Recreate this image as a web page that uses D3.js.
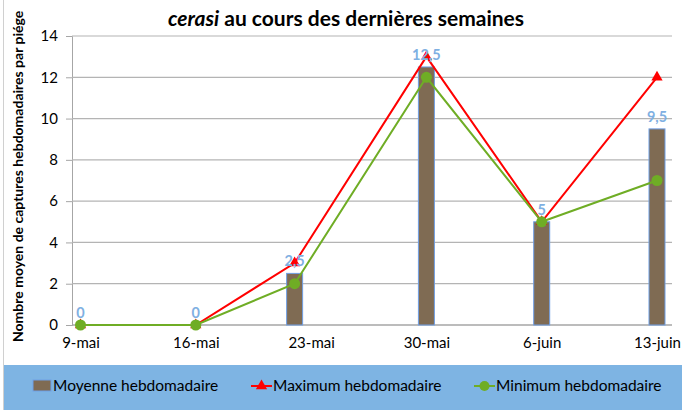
<!DOCTYPE html>
<html>
<head>
<meta charset="utf-8">
<script src="https://cdn.jsdelivr.net/npm/d3@7"></script>
<style>
body { margin: 0; background: #fff; }
svg { font-family: Lato, "Open Sans", sans-serif; }
</style>
</head>
<body>
<script>
const w = 682;
const h = 410;

// data (dates of the weekly trap readings)
const dates = ["2014-05-09", "2014-05-16", "2014-05-22", "2014-05-30", "2014-06-06", "2014-06-13"];
const moyenne = [0, 0, 2.5, 12.5, 5, 9.5];
const maximum = [0, 0, 3, 13, 5, 12];
const minimum = [0, 0, 2, 12, 5, 7];
const tickDates = ["2014-05-09", "2014-05-16", "2014-05-23", "2014-05-30", "2014-06-06", "2014-06-13"];
const tickLabels = ["9-mai", "16-mai", "23-mai", "30-mai", "6-juin", "13-juin"];
const yTicks = [0, 2, 4, 6, 8, 10, 12, 14];
const seriesNames = ["Moyenne hebdomadaire", "Maximum hebdomadaire", "Minimum hebdomadaire"];

const parse = d3.timeParse("%Y-%m-%d");
const xDates = dates.map(parse);

const xScale = d3.scaleTime()
                 .domain([parse("2014-05-09"), parse("2014-06-13")])
                 .range([80.5, 657]);

const yScale = d3.scaleLinear()
                 .domain([0, 14])
                 .range([325, 36]);

const svg = d3.select("body")
              .append("svg")
              .attr("width", w)
              .attr("height", h);

// chart border
svg.append("rect")
   .attr("x", 3.5).attr("y", -5)
   .attr("width", w + 10).attr("height", h + 10)
   .attr("fill", "none").attr("stroke", "#d0d0d0");

// title (second line only visible)
const title = svg.append("text")
   .attr("x", 346).attr("y", 26)
   .attr("text-anchor", "middle")
   .attr("font-size", 21).attr("font-weight", "bold")
   .attr("fill", "#000");
title.append("tspan").attr("font-style", "italic").text("cerasi");
title.append("tspan").text(" au cours des dernières semaines");

// y axis + gridlines
const yAxis = d3.axisLeft(yScale)
                .tickValues(yTicks)
                .tickSize(6)
                .tickFormat(d3.format("d"));

const gy = svg.append("g")
   .attr("id", "y-axis")
   .attr("transform", "translate(72,0)")
   .call(yAxis);
gy.select(".domain").attr("stroke", "#a6a6a6");
gy.selectAll(".tick line").attr("stroke", "#a6a6a6");
gy.selectAll(".tick text")
  .attr("font-size", 15).attr("fill", "#000").attr("x", -14)
  .attr("font-family", "Lato, sans-serif");

svg.append("g")
   .selectAll("line")
   .data(yTicks.filter(d => d > 0))
   .enter()
   .append("line")
   .attr("x1", 72).attr("x2", 672)
   .attr("y1", d => yScale(d)).attr("y2", d => yScale(d))
   .attr("stroke", "#b4b4b4").attr("stroke-width", 1.2);

// x axis
const xAxis = d3.axisBottom(xScale)
                .tickValues(tickDates.map(parse))
                .tickSize(0)
                .tickFormat((d, i) => tickLabels[i]);

const gx = svg.append("g")
   .attr("id", "x-axis")
   .attr("transform", "translate(0,325)")
   .call(xAxis);
gx.select(".domain").attr("d", "M72,0H672").attr("stroke", "#a6a6a6").attr("stroke-width", 1.3);
gx.selectAll(".tick text")
  .attr("font-size", 15).attr("fill", "#000").attr("y", 12)
  .attr("font-family", "Lato, sans-serif");

// y axis title
svg.append("text")
   .attr("transform", "translate(23,342) rotate(-90)")
   .attr("text-anchor", "start")
   .attr("font-size", 14).attr("font-weight", "bold")
   .text("Nombre moyen de captures hebdomadaires par piége");

// bars
const barW = 16;
svg.selectAll("rect.bar")
   .data(moyenne)
   .enter()
   .append("rect")
   .attr("class", "bar")
   .attr("x", (d, i) => xScale(xDates[i]) - barW / 2)
   .attr("y", d => yScale(d))
   .attr("width", barW)
   .attr("height", d => yScale(0) - yScale(d))
   .attr("fill", "#7f6b53")
   .attr("stroke", "#6f9fe6")
   .attr("stroke-width", 1);

// lines
const line = d3.line()
               .x((d, i) => xScale(xDates[i]))
               .y(d => yScale(d));

svg.append("path")
   .datum(maximum)
   .attr("d", line)
   .attr("fill", "none")
   .attr("stroke", "#ff0000")
   .attr("stroke-width", 2);

const tri = d3.symbol().type(d3.symbolTriangle).size(55);
svg.selectAll("path.maxpt")
   .data(maximum)
   .enter()
   .append("path")
   .attr("class", "maxpt")
   .attr("d", tri)
   .attr("transform", (d, i) => "translate(" + xScale(xDates[i]) + "," + yScale(d) + ")")
   .attr("fill", "#ff0000");

svg.append("path")
   .datum(minimum)
   .attr("d", line)
   .attr("fill", "none")
   .attr("stroke", "#6fad25")
   .attr("stroke-width", 2);

svg.selectAll("circle.minpt")
   .data(minimum)
   .enter()
   .append("circle")
   .attr("class", "minpt")
   .attr("cx", (d, i) => xScale(xDates[i]))
   .attr("cy", d => yScale(d))
   .attr("r", 5.5)
   .attr("fill", "#6fad25");

// data labels on the mean
svg.selectAll("text.lbl")
   .data(moyenne)
   .enter()
   .append("text")
   .attr("class", "lbl")
   .attr("x", (d, i) => xScale(xDates[i]))
   .attr("y", d => yScale(d) - 7)
   .attr("text-anchor", "middle")
   .attr("font-size", 14.5).attr("font-weight", "bold")
   .attr("fill", "#7fb0e2")
   .text(d => String(d).replace(".", ","));

// legend
svg.append("rect")
   .attr("x", 4).attr("y", 365)
   .attr("width", w).attr("height", 50)
   .attr("fill", "#7eb4e3");

const leg = svg.append("g");
const legX = [33, 251, 474];

leg.append("rect")
   .attr("x", legX[0]).attr("y", 380)
   .attr("width", 18).attr("height", 11)
   .attr("fill", "#7f6b53").attr("stroke", "#6f9fe6");

leg.append("line")
   .attr("x1", legX[1]).attr("x2", legX[1] + 21)
   .attr("y1", 386).attr("y2", 386)
   .attr("stroke", "#ff0000").attr("stroke-width", 2);
leg.append("path")
   .attr("d", tri)
   .attr("transform", "translate(" + (legX[1] + 10.5) + ",386)")
   .attr("fill", "#ff0000");

leg.append("line")
   .attr("x1", legX[2]).attr("x2", legX[2] + 21)
   .attr("y1", 386).attr("y2", 386)
   .attr("stroke", "#6fad25").attr("stroke-width", 2);
leg.append("circle")
   .attr("cx", legX[2] + 10.5).attr("cy", 386).attr("r", 5)
   .attr("fill", "#6fad25");

leg.selectAll("text")
   .data(seriesNames)
   .enter()
   .append("text")
   .attr("x", (d, i) => legX[i] + (i === 0 ? 20 : 22))
   .attr("y", 391)
   .attr("font-size", 15.5)
   .attr("fill", "#000")
   .text(d => d);
</script>
</body>
</html>
